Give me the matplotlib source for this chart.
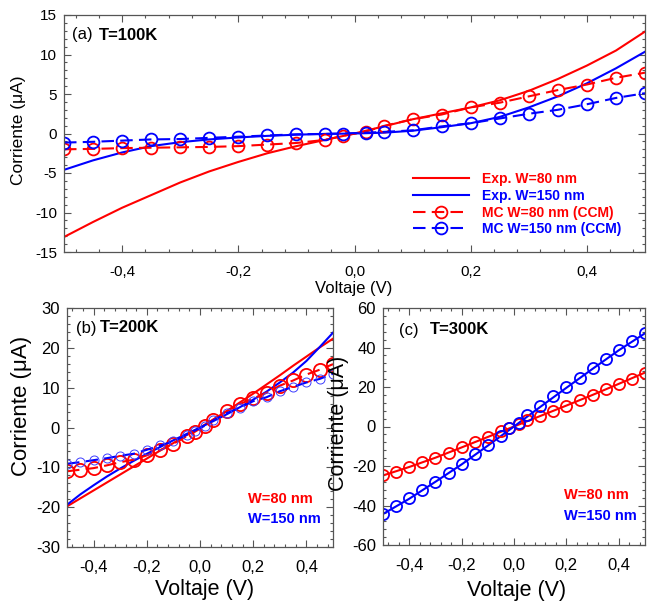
import matplotlib
matplotlib.use("Agg")
import matplotlib.pyplot as plt
from matplotlib.ticker import MultipleLocator, FuncFormatter
from matplotlib.lines import Line2D

plt.rcParams['font.family'] = ['Liberation Sans', 'DejaVu Sans']

W, H = 647, 607

# ---------------- data ----------------
V_exp = [-0.5, -0.45, -0.4, -0.35, -0.3, -0.25, -0.2, -0.15, -0.1, -0.05, 0.0,
         0.05, 0.1, 0.15, 0.2, 0.25, 0.3, 0.35, 0.4, 0.45, 0.5]
V_mc = [-0.5, -0.45, -0.4, -0.35, -0.3, -0.25, -0.2, -0.15, -0.1, -0.05, -0.02,
        0.02, 0.05, 0.1, 0.15, 0.2, 0.25, 0.3, 0.35, 0.4, 0.45, 0.5]

# (a) T=100K
a_exp80 = [-13.1, -11.2, -9.4, -7.8, -6.2, -4.8, -3.6, -2.5, -1.6, -0.8, 0.0,
           0.9, 1.8, 2.55, 3.3, 4.2, 5.4, 6.9, 8.6, 10.5, 12.9]
a_exp150 = [-4.6, -3.4, -2.4, -1.6, -1.1, -0.75, -0.5, -0.3, -0.15, -0.05, 0.0,
            0.1, 0.35, 0.8, 1.3, 2.1, 3.3, 4.7, 6.35, 8.25, 10.35]
a_mc80 = [-2.0, -1.95, -1.85, -1.8, -1.75, -1.7, -1.6, -1.4, -1.2, -0.8, -0.3,
          0.25, 0.95, 1.8, 2.4, 3.3, 3.9, 4.7, 5.5, 6.2, 7.05, 7.7]
a_mc150 = [-1.15, -1.05, -0.9, -0.75, -0.7, -0.55, -0.4, -0.25, -0.1, -0.05, 0.0,
           0.1, 0.2, 0.4, 0.9, 1.3, 1.9, 2.5, 3.0, 3.7, 4.5, 5.1]

# (b) T=200K
b_exp80 = [-19.8, -17.8, -15.8, -13.8, -11.8, -9.8, -7.8, -5.8, -3.9, -1.9, 0.0,
           2.0, 4.1, 6.3, 8.5, 10.8, 13.1, 15.5, 17.8, 20.1, 22.3]
b_exp150 = [-19.4, -16.8, -14.5, -12.3, -10.3, -8.4, -6.6, -4.9, -3.2, -1.6, 0.0,
            1.6, 3.3, 5.1, 7.0, 9.0, 11.3, 13.8, 16.7, 20.2, 23.8]
b_mc80 = [-11.0, -10.6, -10.2, -9.5, -8.7, -8.1, -7.0, -5.7, -4.1, -2.2, -1.1,
          0.5, 2.0, 4.1, 5.9, 7.3, 8.7, 10.5, 11.8, 13.3, 14.5, 15.9]
b_mc150 = [-9.1, -8.7, -8.2, -7.7, -7.1, -6.6, -5.6, -4.5, -3.5, -1.8, -0.8,
           0.5, 1.8, 3.6, 5.0, 6.6, 7.6, 9.1, 10.2, 11.3, 12.2, 13.5]

# (c) T=300K
V_exp_c = [-0.5, -0.4, -0.3, -0.2, -0.1, 0.0, 0.1, 0.2, 0.3, 0.4, 0.5]
c_exp80 = [-24.8, -20.5, -15.8, -10.6, -5.3, 0.0, 5.3, 10.6, 16.0, 21.6, 27.3]
c_exp150 = [-44.3, -36.6, -28.0, -19.2, -9.7, 0.0, 9.9, 19.6, 29.2, 38.6, 47.2]
c_mc80 = [-24.8, -23.1, -20.3, -18.1, -15.7, -13.5, -10.5, -8.1, -5.1, -2.2, -0.8,
          1.4, 3.4, 5.1, 8.1, 10.5, 13.5, 16.0, 18.9, 21.6, 24.2, 27.0]
c_mc150 = [-44.3, -40.0, -36.3, -32.2, -27.9, -23.6, -19.1, -13.9, -9.6, -4.7, -1.0,
           2.0, 5.6, 10.5, 15.2, 19.9, 24.5, 29.6, 34.1, 38.9, 43.1, 47.3]

xticks = [-0.4, -0.2, 0.0, 0.2, 0.4]
labels_legend = ["Exp. W=80 nm", "Exp. W=150 nm", "MC W=80 nm (CCM)", "MC W=150 nm (CCM)"]

RED = '#ff0000'
BLUE = '#0000ff'
SPINE = '#555555'

fig = plt.figure(figsize=(W / 100, H / 100), dpi=100)


def px_axes(x0, y0, x1, y1):
    return fig.add_axes([x0 / W, 1 - y1 / H, (x1 - x0) / W, (y1 - y0) / H])


def style(ax, ylim, ymaj, ymin, tsize):
    ax.set_xlim(-0.5, 0.5)
    ax.set_ylim(*ylim)
    ax.set_xticks(xticks)
    ax.xaxis.set_minor_locator(MultipleLocator(0.04))
    ax.yaxis.set_major_locator(MultipleLocator(ymaj))
    ax.yaxis.set_minor_locator(MultipleLocator(ymin))
    ax.xaxis.set_major_formatter(FuncFormatter(lambda v, p: f"{v:.1f}".replace('.', ',').replace('-0,0', '0,0')))
    ax.yaxis.set_major_formatter(FuncFormatter(lambda v, p: f"{v:.0f}"))
    ax.tick_params(which='both', direction='in', top=True, right=True, color=SPINE, width=0.8)
    ax.tick_params(which='major', length=5)
    ax.tick_params(which='minor', length=2.5)
    ax.tick_params(axis='x', which='major', pad=9, labelsize=tsize)
    ax.tick_params(axis='y', which='major', pad=5, labelsize=tsize)
    for s in ax.spines.values():
        s.set_color(SPINE)
        s.set_linewidth(0.9)


def ftext(x, y, s, **kw):
    fig.text(x / W, 1 - y / H, s, va='center', ha='left', **kw)


# ---------------- panel (a) ----------------
axa = px_axes(64, 15, 645, 252)
axa.plot(V_exp, a_exp80, color=RED, lw=1.5)
axa.plot(V_exp, a_exp150, color=BLUE, lw=1.5)
axa.plot(V_mc, a_mc80, color=RED, lw=1.5, ls=(0, (6, 3)), marker='o', ms=8.5,
         mfc='none', mec=RED, mew=1.3)
axa.plot(V_mc, a_mc150, color=BLUE, lw=1.5, ls=(0, (6, 3)), marker='o', ms=8.5,
         mfc='none', mec=BLUE, mew=1.3)
style(axa, (-15, 15), 5, 1, 11)
axa.set_xlabel("Voltaje (V)", fontsize=12, va='center')
axa.xaxis.set_label_coords(0.498, -0.155)
axa.set_ylabel("Corriente (μA)", fontsize=12.5, va='center')
axa.yaxis.set_label_coords(-0.0775, 0.515)

handles = [
    Line2D([], [], color=RED, lw=1.5),
    Line2D([], [], color=BLUE, lw=1.5),
    Line2D([], [], color=RED, lw=1.5, ls=(0, (6, 3)), marker='o', ms=8.5, mfc='none', mec=RED, mew=1.3),
    Line2D([], [], color=BLUE, lw=1.5, ls=(0, (6, 3)), marker='o', ms=8.5, mfc='none', mec=BLUE, mew=1.3),
]
leg = axa.legend(handles, labels_legend, loc='upper left',
                 bbox_to_anchor=(413 / W, 1 - 172 / H), bbox_transform=fig.transFigure,
                 frameon=False, borderpad=0, borderaxespad=0, handlelength=4.0,
                 handletextpad=1.0, labelspacing=0.2, numpoints=1,
                 prop={'weight': 'bold', 'size': 10})
for t, c in zip(leg.get_texts(), [RED, BLUE, RED, BLUE]):
    t.set_color(c)

ftext(72, 35, "(a)", fontsize=12)
ftext(99, 35, "T=100K", fontsize=12, fontweight='bold')

# ---------------- panel (b) ----------------
axb = px_axes(67, 308, 333, 547)
axb.plot(V_exp, b_exp80, color=RED, lw=1.5)
axb.plot(V_exp, b_exp150, color=BLUE, lw=1.5)
axb.plot(V_mc, b_mc80, color=RED, lw=1.5, ls=(0, (6, 3)), marker='o', ms=9.5,
         mfc='none', mec=RED, mew=1.3)
axb.plot(V_mc, b_mc150, color=BLUE, lw=1.5, ls=(0, (6, 3)), marker='o', ms=6.5,
         mfc='none', mec='#3d3dff', mew=0.7)
style(axb, (-30, 30), 10, 2, 12)
axb.set_xlabel("Voltaje (V)", fontsize=15.5, va='center')
axb.xaxis.set_label_coords(0.519, -0.176)
axb.set_ylabel("Corriente (μA)", fontsize=16, va='center')
axb.yaxis.set_label_coords(-0.172, 0.59)
ftext(76, 328, "(b)", fontsize=12)
ftext(100, 328, "T=200K", fontsize=12, fontweight='bold')
ftext(248, 499, "W=80 nm", fontsize=10.5, fontweight='bold', color=RED)
ftext(248, 519, "W=150 nm", fontsize=10.5, fontweight='bold', color=BLUE)

# ---------------- panel (c) ----------------
axc = px_axes(383, 308, 645, 545)
axc.plot(V_exp_c, c_exp80, color=RED, lw=1.5)
axc.plot(V_exp_c, c_exp150, color=BLUE, lw=1.5)
axc.plot(V_mc, c_mc80, ls='none', marker='o', ms=8, mfc='none', mec=RED, mew=1.3)
axc.plot(V_mc, c_mc150, ls='none', marker='o', ms=8, mfc='none', mec=BLUE, mew=1.3)
style(axc, (-60, 60), 20, 4, 12)
axc.set_xlabel("Voltaje (V)", fontsize=15.5, va='center')
axc.xaxis.set_label_coords(0.508, -0.19)
axc.set_ylabel("Corriente (μA)", fontsize=15.5, va='center')
axc.yaxis.set_label_coords(-0.168, 0.515)
ftext(399, 330, "(c)", fontsize=12)
ftext(430, 330, "T=300K", fontsize=12, fontweight='bold')
ftext(564, 495, "W=80 nm", fontsize=10.5, fontweight='bold', color=RED)
ftext(564, 516, "W=150 nm", fontsize=10.5, fontweight='bold', color=BLUE)

fig.savefig("out.png", dpi=100)
